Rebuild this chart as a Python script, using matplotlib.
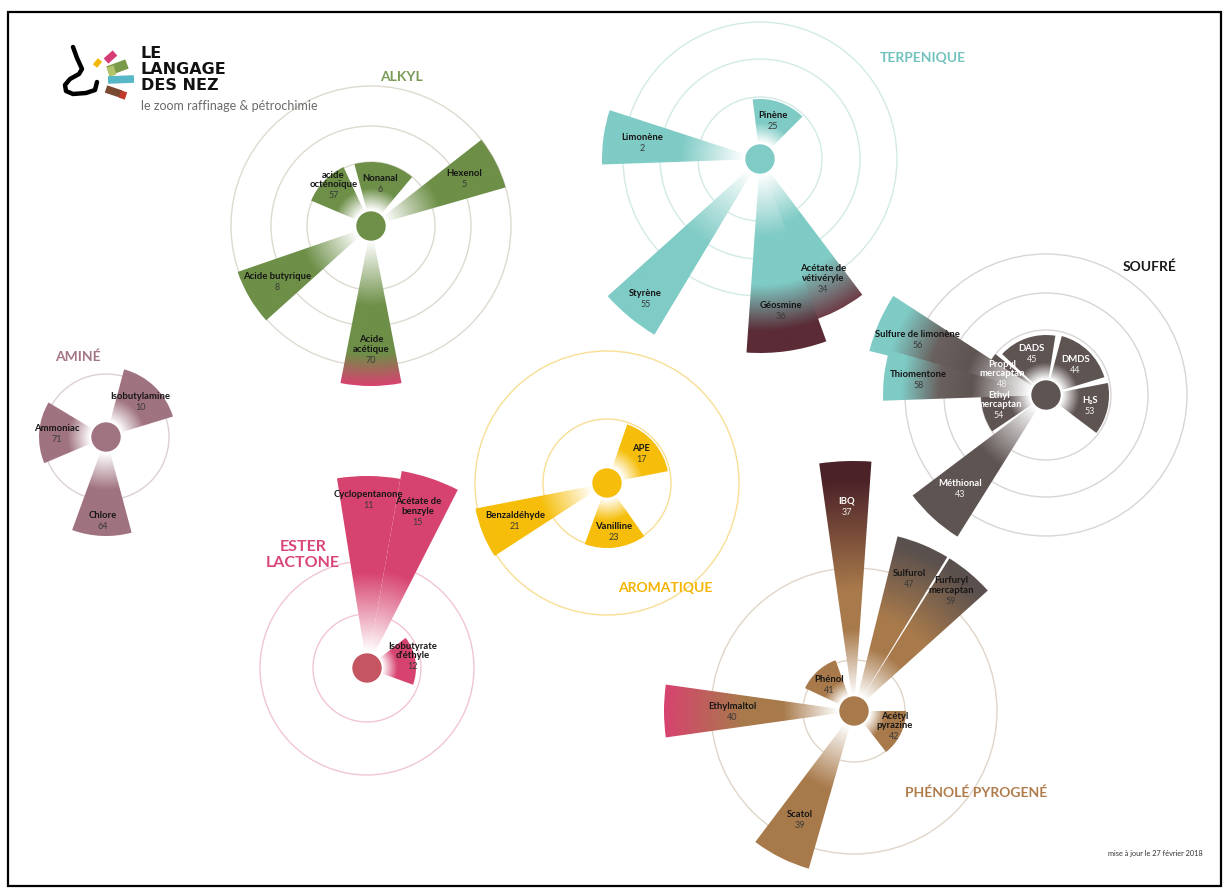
import numpy as np
import matplotlib.pyplot as plt
from matplotlib.patches import Wedge, Circle, Rectangle
from matplotlib.colors import to_rgb

W, H = 1223, 888

# --- données : nom, numéro, longueur du secteur (px), angles (degrés) ---
alkyl_names = ["Nonanal", "acide\nocténoïque", "Hexenol", "Acide butyrique", "Acide\nacétique"]
alkyl_ids = [6, 57, 5, 8, 70]
alkyl_len = [64, 65, 140, 141, 160]
alkyl_start = [50, 115, 16, 199, 259]
alkyl_end = [105, 157, 38, 222, 281]

terp_names = ["Pinène", "Limonène", "Styrène", "Acétate de\nvétivéryle", "Géosmine"]
terp_ids = [25, 2, 55, 34, 36]
terp_len = [60, 158, 205, 170, 194]
terp_start = [45, 162, 222, 287, 266]
terp_end = [97, 182, 239, 307, 290]

soufre_names = ["DADS", "DMDS", "H₂S", "Propyl\nmercaptan", "Ethyl\nmercaptan",
                "Méthional", "Sulfure de limonène", "Thiomentone"]
soufre_ids = [45, 44, 53, 48, 54, 43, 56, 58]
soufre_len = [60, 61, 63, 65, 65, 167, 182, 163]
soufre_start = [81, 17, -37, 141, 181, 217, 147, 164]
soufre_end = [137, 75, 11, 178, 214, 238, 166, 182]

amine_names = ["Isobutylamine", "Ammoniac", "Chlore"]
amine_ids = [10, 71, 64]
amine_len = [70, 67, 99]
amine_start = [17, 149, 250]
amine_end = [75, 203, 285]

ester_names = ["Isobutyrate\nd’éthyle", "Cyclopentanone", "Acétate de\nbenzyle"]
ester_ids = [12, 11, 15]
ester_len = [49, 192, 200]
ester_start = [-20, 80, 63]
ester_end = [38, 99, 80]

arom_names = ["APE", "Vanilline", "Benzaldéhyde"]
arom_ids = [17, 23, 21]
arom_len = [62, 65, 134]
arom_start = [11, 250, 191]
arom_end = [71, 305, 213]

phen_names = ["Phénol", "Acétyl\npyrazine", "IBQ", "Sulfurol", "Furfuryl\nmercaptan",
              "Ethylmaltol", "Scatol"]
phen_ids = [41, 42, 37, 47, 59, 40, 39]
phen_len = [54, 52, 250, 180, 180, 190, 164]
phen_start = [110, -52, 86, 58.8, 42, 172, 233]
phen_end = [155, 0, 98, 76, 58, 188, 254]

# --- couleurs ---
GREEN = "#6d8f47"
TEAL = "#7fcbc5"
GREY = "#5e5452"
MAUVE = "#a07380"
PINK = "#d7436f"
YELLOW = "#f6be0a"
BROWN = "#a87a4b"
MAROON = "#5b2c36"

special = {
    "Acide\nacétique": [(0, "white"), (0.45, GREEN), (0.78, GREEN), (1, PINK)],
    "Géosmine": [(0, "white"), (0.35, TEAL), (0.62, TEAL), (0.88, MAROON), (1, MAROON)],
    "Acétate de\nvétivéryle": [(0, "white"), (0.35, TEAL), (0.68, TEAL), (1, "#6e3d47")],
    "Sulfure de limonène": [(0, "white"), (0.4, GREY), (0.62, "#6a605e"), (0.88, TEAL), (1, TEAL)],
    "Thiomentone": [(0, "white"), (0.4, GREY), (0.62, "#6a605e"), (0.88, TEAL), (1, TEAL)],
    "IBQ": [(0, "white"), (0.28, BROWN), (0.45, BROWN), (0.92, "#4c2229"), (1, "#4c2229")],
    "Sulfurol": [(0, "white"), (0.3, BROWN), (0.5, BROWN), (0.95, "#5a504e"), (1, "#5a504e")],
    "Furfuryl\nmercaptan": [(0, "white"), (0.3, BROWN), (0.5, BROWN), (0.95, "#5a504e"), (1, "#5a504e")],
    "Ethylmaltol": [(0, "white"), (0.32, BROWN), (0.55, BROWN), (1, PINK)],
    "DADS": [(0, "white"), (0.38, GREY), (1, GREY)],
    "DMDS": [(0, "white"), (0.38, GREY), (1, GREY)],
    "H₂S": [(0, "white"), (0.38, GREY), (1, GREY)],
}
white_text = {"DADS", "DMDS", "H₂S", "Propyl\nmercaptan", "Ethyl\nmercaptan", "Méthional", "IBQ"}

FONT = ["Lato", "DejaVu Sans"]

clusters = [
    dict(names=amine_names, ids=amine_ids, length=amine_len, a1=amine_start, a2=amine_end,
         c=(106, 437), rings=[63], color=MAUVE, disc=MAUVE, ring="#ddd0d4",
         lab=[0.71, 0.73, 0.84]),
    dict(names=alkyl_names, ids=alkyl_ids, length=alkyl_len, a1=alkyl_start, a2=alkyl_end,
         c=(371, 226), rings=[64, 100, 140], color=GREEN, disc=GREEN, ring="#dedad0",
         lab=[0.68, 0.8, 0.75, 0.77, 0.8]),
    dict(names=terp_names, ids=terp_ids, length=terp_len, a1=terp_start, a2=terp_end,
         c=(760, 159), rings=[62, 100, 137], color=TEAL, disc=TEAL, ring="#d2eae7",
         lab=[0.67, 0.75, 0.88, 0.82, 0.79]),
    dict(names=soufre_names, ids=soufre_ids, length=soufre_len, a1=soufre_start, a2=soufre_end,
         c=(1046, 395), rings=[65, 102, 141], color=GREY, disc=GREY, ring="#d9d5d4",
         lab=[0.73, 0.7, 0.72, 0.72, 0.76, 0.76, 0.77, 0.79]),
    dict(names=ester_names, ids=ester_ids, length=ester_len, a1=ester_start, a2=ester_end,
         c=(367, 668), rings=[54, 107], color=PINK, disc="#c45561", ring="#f1c6d3",
         lab=[0.94, 0.88, 0.8]),
    dict(names=arom_names, ids=arom_ids, length=arom_len, a1=arom_start, a2=arom_end,
         c=(607, 483), rings=[64, 132], color=YELLOW, disc=YELLOW, ring="#f8de94",
         lab=[0.73, 0.76, 0.74]),
    dict(names=phen_names, ids=phen_ids, length=phen_len, a1=phen_start, a2=phen_end,
         c=(854, 711), rings=[51, 143], color=BROWN, disc=BROWN, ring="#e0d5c8",
         lab=[0.67, 0.87, 0.82, 0.8, 0.84, 0.64, 0.74]),
]

titles = [
    ("ALKYL", 401, 77, "#7a9b55", 10, "center"),
    ("TERPENIQUE", 923, 58, "#72c2bd", 10, "center"),
    ("SOUFRÉ", 1150, 267, "#1a1a1a", 10, "center"),
    ("AMINÉ", 78, 357, "#a47684", 10, "center"),
    ("ESTER\nLACTONE", 303, 555, "#d9457a", 11.5, "center"),
    ("AROMATIQUE", 665, 588, "#f5b400", 10, "center"),
    ("PHÉNOLÉ PYROGENÉ", 905, 793, "#b07c4c", 10, "left"),
]

R_IN = 16


def gradient_wedge(ax, cx, cy, R, a1, a2, stops, z):
    wedge = Wedge((cx, cy), R, -a2, -a1, width=R - R_IN, facecolor="none", edgecolor="none")
    ax.add_patch(wedge)
    n = int(2 * R) + 2
    xs = np.linspace(cx - R, cx + R, n)
    ys = np.linspace(cy - R, cy + R, n)
    X, Y = np.meshgrid(xs, ys)
    t = np.clip((np.hypot(X - cx, Y - cy) - R_IN) / (R - R_IN), 0, 1)
    pos = [s[0] for s in stops]
    cols = np.array([to_rgb(s[1]) for s in stops])
    rgb = np.stack([np.interp(t, pos, cols[:, k]) for k in range(3)], axis=-1)
    im = ax.imshow(rgb, extent=(cx - R, cx + R, cy - R, cy + R), origin="lower",
                   interpolation="bilinear", zorder=z)
    im.set_clip_path(wedge)


fig = plt.figure(figsize=(W / 100, H / 100), dpi=100)
ax = fig.add_axes([0, 0, 1, 1])
ax.set_axis_off()

z = 3
for cl in clusters:
    cx, cy = cl["c"]
    for r in cl["rings"]:
        ax.add_patch(Circle((cx, cy), r, fill=False, ec=cl["ring"], lw=1.0, zorder=1))
    for name, num, R, a1, a2, f in zip(cl["names"], cl["ids"], cl["length"],
                                       cl["a1"], cl["a2"], cl["lab"]):
        stops = special.get(name, [(0, "white"), (0.45, cl["color"]), (1, cl["color"])])
        gradient_wedge(ax, cx, cy, R, a1, a2, stops, z)
        z += 1
        mid = np.radians((a1 + a2) / 2)
        lx = cx + f * R * np.cos(mid)
        ly = cy - f * R * np.sin(mid)
        tc = "white" if name in white_text else "#161616"
        nc = "#eeeeee" if name in white_text else "#3a3a3a"
        ax.text(lx, ly - 0.5, name, ha="center", va="bottom", fontsize=6.8, fontweight="bold",
                color=tc, family=FONT, linespacing=1.05, zorder=60)
        ax.text(lx, ly + 1.5, str(num), ha="center", va="top", fontsize=6.5,
                color=nc, family=FONT, zorder=60)
    ax.add_patch(Circle((cx, cy), 14, color=cl["disc"], zorder=50))

for txt, x, y, col, fs, ha in titles:
    ax.text(x, y, txt, ha=ha, va="center", fontsize=fs, fontweight="bold",
            color=col, family=FONT, linespacing=1.15, zorder=60)

# logo
nose_x = [73, 77, 82, 79, 70, 65, 66, 73, 86, 95, 97]
nose_y = [47, 58, 69, 74, 79, 85, 91, 94, 93, 90, 82]
ax.plot(nose_x, nose_y, color="black", lw=3.2, solid_capstyle="round", solid_joinstyle="round",
        zorder=60)
bars = [((95, 66), (100, 60), "#f5b800", 4), ((106, 61), (115, 53), "#d63c75", 5),
        ((108, 71), (127, 64), "#7a9a4a", 7), ((108, 72), (115, 70), "#b2c46a", 7),
        ((108, 80), (134, 79), "#56b8c6", 5.5), ((106, 89), (121, 94), "#7a4a30", 5.5),
        ((120, 94), (126, 96), "#c0392b", 5.5)]
for (x0, y0), (x1, y1), col, lw in bars:
    ax.plot([x0, x1], [y0, y1], color=col, lw=lw, solid_capstyle="butt", zorder=60)
for txt, y in [("LE", 53), ("LANGAGE", 69), ("DES NEZ", 86)]:
    ax.text(141, y, txt, ha="left", va="center", fontsize=11.5, fontweight="bold",
            color="#111111", family="DejaVu Sans", zorder=60)
ax.text(141, 106, "le zoom raffinage & pétrochimie", ha="left", va="center", fontsize=9,
        color="#6b6b6b", family=FONT, zorder=60)
ax.text(1155, 853, "mise à jour le 27 février 2018", ha="center", va="center", fontsize=5.3,
        color="#333333", family=FONT, zorder=60)

ax.add_patch(Rectangle((8, 12), 1213, 874, fill=False, ec="black", lw=1.6, zorder=70))

ax.set_xlim(0, W)
ax.set_ylim(H, 0)
ax.set_aspect("auto")
fig.savefig("out.png", dpi=100)
